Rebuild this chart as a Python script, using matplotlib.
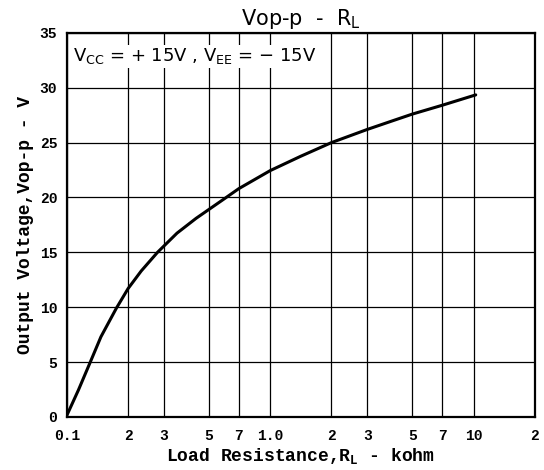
"""Vop-p vs load resistance, datasheet-style curve."""
import numpy as np
import matplotlib
matplotlib.use('Agg')
import matplotlib.pyplot as plt

# load resistance [kohm] and peak-to-peak output voltage [V]
load_kohm = [0.1, 0.114, 0.130, 0.147, 0.175, 0.2, 0.232, 0.279, 0.348, 0.432,
             0.586, 0.7, 1.0, 1.41, 2.0, 3.0, 3.97, 5.0, 7.0, 10.25]
vout_pp = [0.15, 2.46, 4.95, 7.3, 9.9, 11.7, 13.3, 15.0, 16.75, 18.1,
           19.8, 20.8, 22.45, 23.75, 25.0, 26.2, 26.97, 27.6, 28.4, 29.35]

x_ticks = [0.1, 0.2, 0.3, 0.5, 0.7, 1.0, 2, 3, 5, 7, 10, 20]
x_tick_labels = ['0.1', '2', '3', '5', '7', '1.0', '2', '3', '5', '7', '10', '2']
y_ticks = [0, 5, 10, 15, 20, 25, 30, 35]


def main():
    mono = 'Liberation Mono'
    fig = plt.figure(figsize=(5.44, 4.70), dpi=100)
    ax = fig.add_axes([0.123, 0.113, 0.860, 0.817])

    ax.plot(load_kohm, vout_pp, color='black', lw=2.2,
            solid_capstyle='round', solid_joinstyle='round')

    ax.set_xscale('log')
    ax.set_xlim(0.1, 20)
    ax.set_ylim(0, 35)
    ax.set_xticks(x_ticks)
    ax.set_xticklabels(x_tick_labels)
    ax.minorticks_off()
    ax.set_yticks(y_ticks)
    ax.tick_params(axis='x', length=0, pad=9)
    ax.tick_params(axis='y', length=0, pad=7)
    for lbl in ax.get_xticklabels() + ax.get_yticklabels():
        lbl.set_fontfamily(mono)
        lbl.set_fontweight('bold')
        lbl.set_fontsize(10.5)
    ax.grid(True, color='black', lw=0.9)
    for sp in ax.spines.values():
        sp.set_linewidth(1.6)

    ax.set_xlabel('Load Resistance,R$_\\mathregular{L}$ - kohm', family=mono,
                  fontsize=13, fontweight='bold', labelpad=2)
    ax.set_ylabel('Output Voltage,Vop-p - V', family=mono,
                  fontsize=13, fontweight='bold', labelpad=4)
    ax.set_title('Vop-p  -  R$_\\mathregular{L}$', fontsize=15, pad=6,
                 family='Liberation Sans Narrow')

    ax.text(0.012, 0.965,
            'V$_\\mathregular{CC}$ = + 15V , V$_\\mathregular{EE}$ = \u2212 15V',
            transform=ax.transAxes, ha='left', va='top', fontsize=13,
            family='Liberation Sans Narrow',
            bbox=dict(facecolor='white', edgecolor='none', pad=1))

    fig.savefig('out.png', dpi=100)


if __name__ == '__main__':
    main()
